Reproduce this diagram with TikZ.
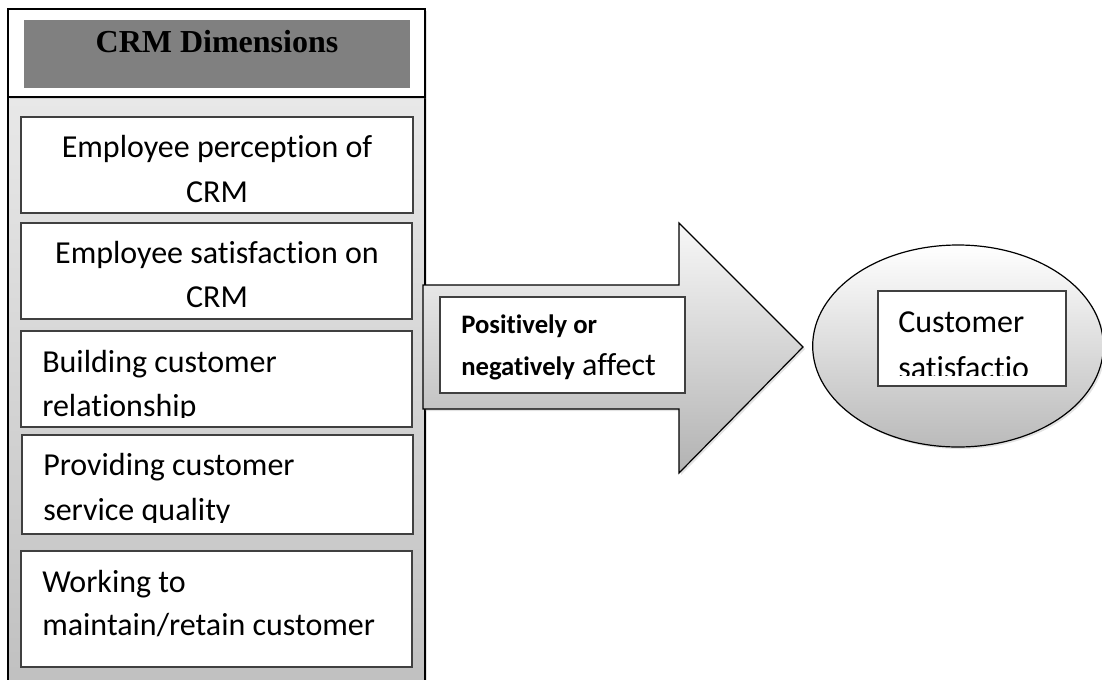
\documentclass[tikz,border=0pt]{standalone}
\usepackage{fontspec}
\setmainfont{Carlito}[Ligatures=NoCommon]
\newfontfamily\timesfont{Liberation Serif}
\usetikzlibrary{shapes.geometric,shadows}
\tikzset{
  px/.style={x=0.75pt,y=-0.75pt},
  innerbox/.style={draw=black!75,line width=0.8pt,fill=white},
  linetext/.style={inner sep=0pt,font=\fontsize{24}{28}\selectfont},
  boldtext/.style={inner sep=0pt,font=\fontsize{20}{24}\selectfont\bfseries},
  soft/.style={drop shadow={shadow xshift=1.5pt,shadow yshift=-1.5pt,opacity=0.22}},
}
\begin{document}
\begin{tikzpicture}[px]
\useasboundingbox (0,0) rectangle (1102,679);
% column body
\path[soft,draw=black,line width=1.1pt,top color=black!9,bottom color=black!25] (8,97) rectangle (425,700);
% header
\path[soft,draw=black,line width=1.1pt,fill=white] (8,9) rectangle (425,97);
\fill[black!50] (24,20) rectangle (410,88);
\node[inner sep=0pt,anchor=base,font=\timesfont\fontsize{24}{28}\selectfont\bfseries] (title) at (217,52) {CRM Dimensions};
% box 1
\draw[innerbox] (21,117) rectangle (413,213);
\node[linetext,anchor=base] (b1a) at (217,157) {Employee perception of};
\node[linetext,anchor=base] (b1b) at (217,202) {CRM};
% box 2
\draw[innerbox] (21,223) rectangle (412,319);
\node[linetext,anchor=base] (b2a) at (217,263) {Employee satisfaction on};
\node[linetext,anchor=base] (b2b) at (217,307) {CRM};
% box 3
\draw[innerbox] (21,331) rectangle (412,427);
\begin{scope}
\clip (21,331) rectangle (412,417);
\node[linetext,anchor=base west] (b3a) at (42,372) {Building customer};
\node[linetext,anchor=base west] (b3b) at (42,416) {relationship};
\end{scope}
% box 4
\draw[innerbox] (22,435) rectangle (413,534);
\begin{scope}
\clip (22,435) rectangle (413,522);
\node[linetext,anchor=base west] (b4a) at (43,475) {Providing customer};
\node[linetext,anchor=base west] (b4b) at (43,520) {service quality};
\end{scope}
% box 5
\draw[innerbox] (21,551) rectangle (412,667);
\node[linetext,anchor=base west] (b5a) at (42,592) {Working to};
\node[linetext,anchor=base west] (b5b) at (42,635) {maintain/retain customer};
% arrow
\path[soft,draw=black,line width=0.9pt,top color=black!3,bottom color=black!30]
  (423,285) -- (679,285) -- (679,223) -- (803,347) -- (679,473) -- (679,409) -- (423,409) -- cycle;
\draw[innerbox] (440,297) rectangle (685,393);
\node[boldtext,anchor=base west] (pa) at (461,333) {Positively or};
\node[inner sep=0pt,anchor=base west,font=\fontsize{24}{28}\selectfont] (pb) at (461,375) {{\fontsize{20}{24}\selectfont\bfseries negatively} affect};
% ellipse
\node[soft,ellipse,draw=black,line width=0.9pt,top color=white,bottom color=black!27,minimum width=218pt,minimum height=151.5pt,inner sep=0pt] (ell) at (958,346) {};
\draw[innerbox] (878,291) rectangle (1066,386);
\begin{scope}
\clip (878,291) rectangle (1066,375);
\node[linetext,anchor=base west] (ca) at (898,332) {Customer};
\node[linetext,anchor=base west] (cb) at (898,378) {satisfactio};
\end{scope}
\end{tikzpicture}
\end{document}
